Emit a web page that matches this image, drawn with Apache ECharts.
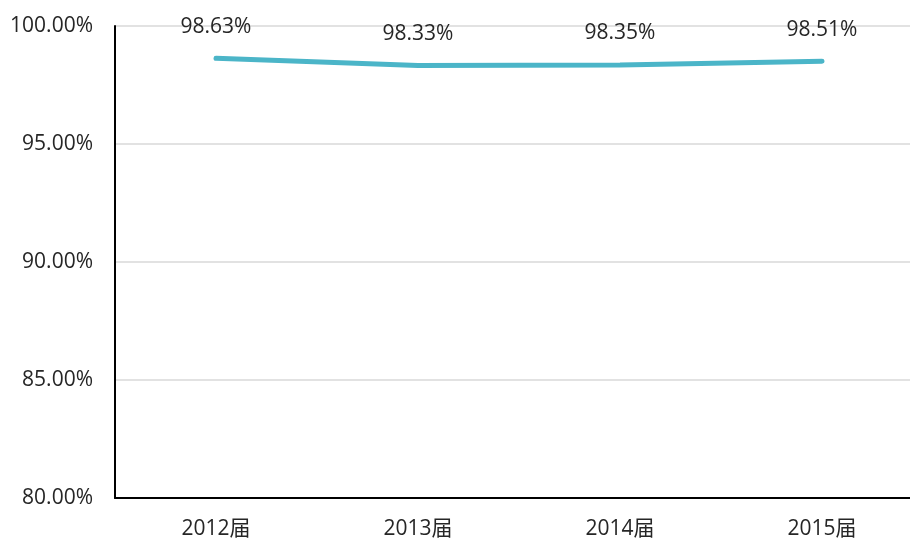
<!DOCTYPE html>
<html><head><meta charset="utf-8">
<script src="https://cdn.jsdelivr.net/npm/echarts@6/dist/echarts.min.js"></script>
<style>html,body{margin:0;padding:0;background:#fff}#c{width:910px;height:542px}</style>
</head><body><div id="c"></div>
<script>
const categories = ['2012届', '2013届', '2014届', '2015届'];
const values = [98.63, 98.33, 98.35, 98.51];
const yTicks = { min: 80, max: 100, interval: 5 };
const font = '"Open Sans", "Noto Sans CJK SC", sans-serif';
const chart = echarts.init(document.getElementById('c'));
chart.setOption({
  animation: false,
  grid: { left: 115, width: 808, top: 26, height: 472, outerBoundsMode: 'none' },
  xAxis: {
    type: 'category', data: categories, boundaryGap: true,
    axisLine: { lineStyle: { color: '#000', width: 2 } },
    axisTick: { show: false },
    axisLabel: { color: '#262626', fontSize: 21, margin: 21, fontFamily: font }
  },
  yAxis: {
    type: 'value', min: yTicks.min, max: yTicks.max, interval: yTicks.interval,
    axisLine: { show: true, lineStyle: { color: '#000', width: 2 } },
    axisTick: { show: false },
    splitLine: { lineStyle: { color: '#d9d9d9', width: 1.5 } },
    axisLabel: { color: '#262626', fontSize: 21, margin: 22, fontFamily: font,
      formatter: v => v.toFixed(2) + '%' }
  },
  series: [{
    type: 'line', data: values, showSymbol: true, symbol: 'circle', symbolSize: 0.1,
    clip: false,
    itemStyle: { color: 'rgba(0,0,0,0)', borderWidth: 0 },
    lineStyle: { color: '#4bb5c8', width: 5, cap: 'round' },
    label: { show: true, position: 'top', distance: 21, color: '#262626', fontSize: 21,
      fontFamily: font, formatter: p => p.value.toFixed(2) + '%' }
  }]
});
</script></body></html>
